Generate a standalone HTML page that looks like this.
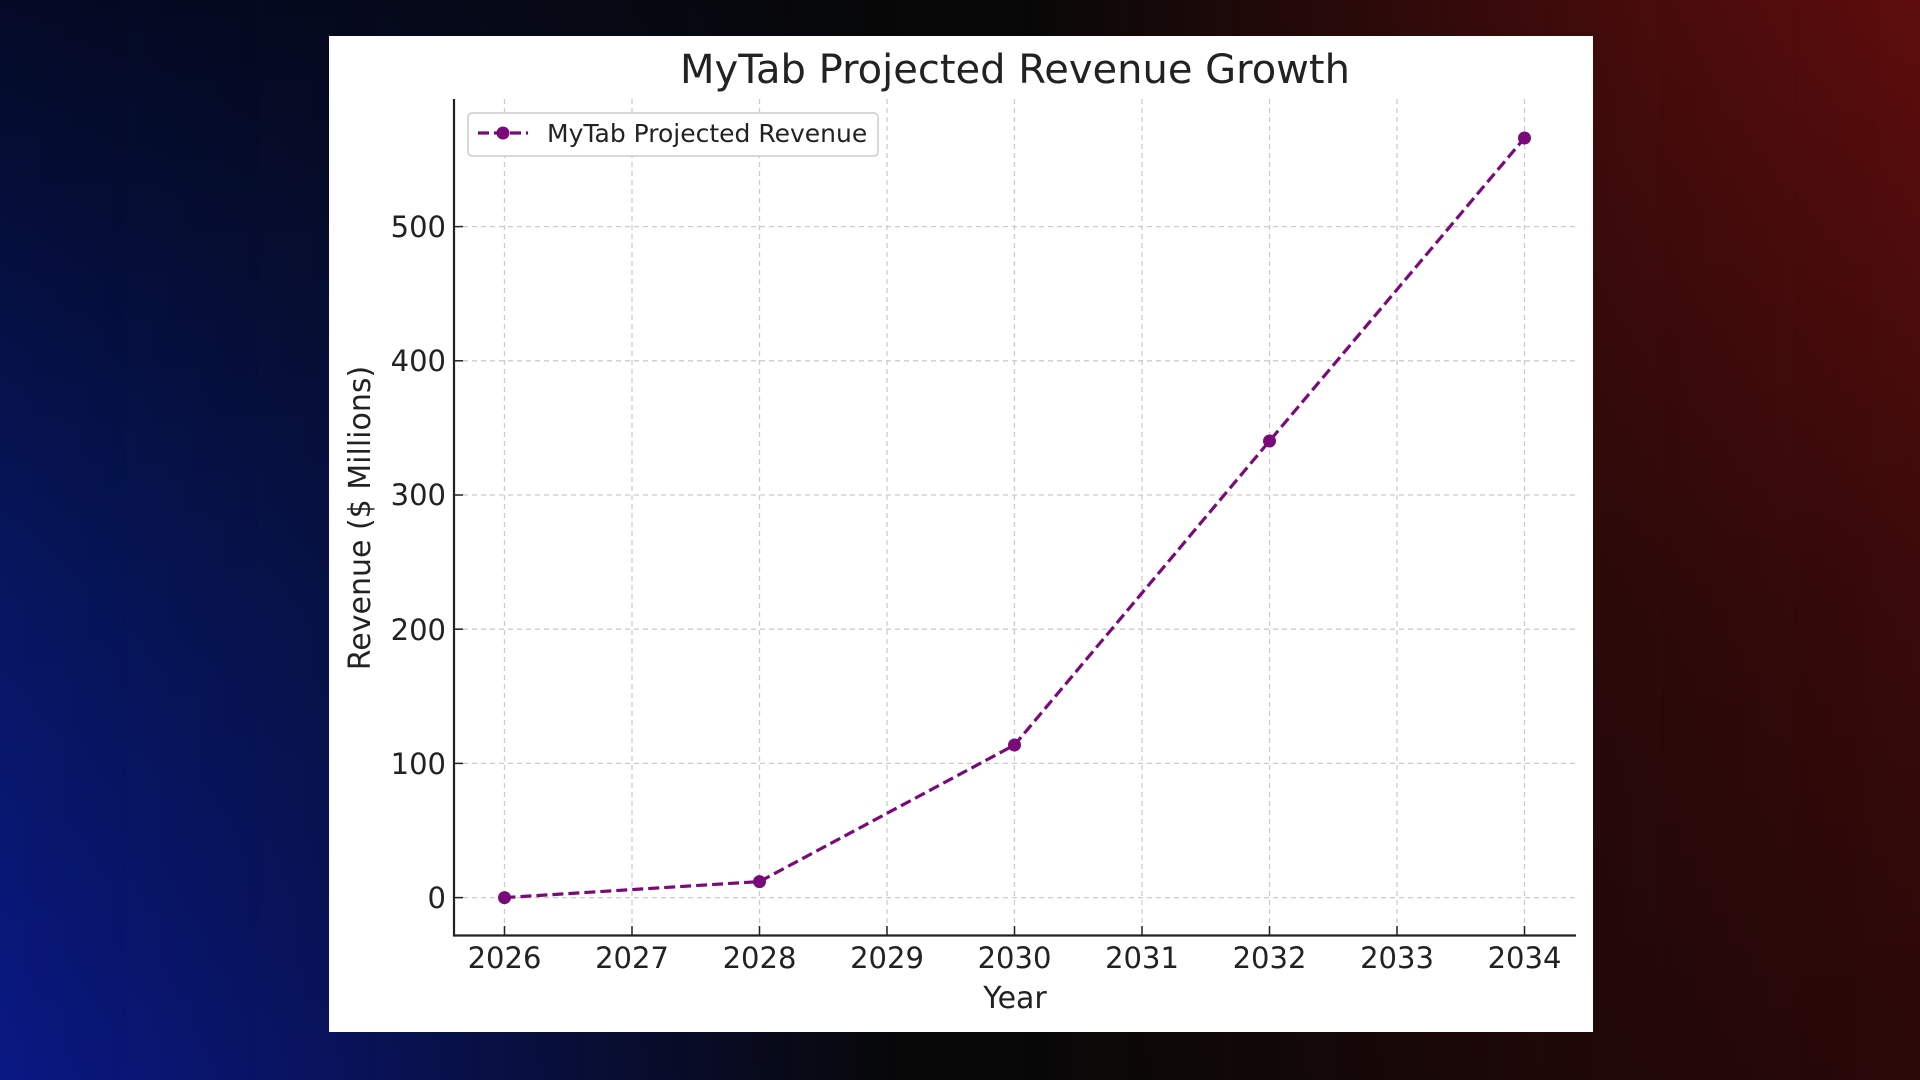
<!DOCTYPE html>
<html><head><style>
html,body{margin:0;padding:0;width:1920px;height:1080px;overflow:hidden;background:#080808;}
.l,.r{position:absolute;top:0;height:1080px;width:900px;}
.l{left:0;background:linear-gradient(to bottom,#040a26 0%,#061660 55%,#0a1884 100%);
-webkit-mask-image:linear-gradient(to right,#000 0%,rgba(0,0,0,.7) 35%,transparent 100%);mask-image:linear-gradient(to right,#000 0%,rgba(0,0,0,.7) 35%,transparent 100%);}
.r{right:0;background:linear-gradient(to bottom,#5e0d0d 0%,#3a0a0a 55%,#2a0808 100%);
-webkit-mask-image:linear-gradient(to left,#000 0%,rgba(0,0,0,.7) 35%,transparent 100%);mask-image:linear-gradient(to left,#000 0%,rgba(0,0,0,.7) 35%,transparent 100%);}
svg{position:absolute;left:0;top:0;}
text{font-family:"DejaVu Sans","Liberation Sans",sans-serif;fill:#222;}
</style></head><body>
<div class="l"></div><div class="r"></div>
<svg width="1920" height="1080" viewBox="0 0 1920 1080">
<rect x="329" y="36" width="1264" height="996" fill="#fff"/>
<text x="1015" y="83" font-size="40" text-anchor="middle" fill="#333">MyTab Projected Revenue Growth</text>
<g stroke="#ccc" stroke-width="1.3" stroke-dasharray="5,4" fill="none">
<line x1="504.5" y1="99" x2="504.5" y2="935"/>
<line x1="632" y1="99" x2="632" y2="935"/>
<line x1="759.5" y1="99" x2="759.5" y2="935"/>
<line x1="887" y1="99" x2="887" y2="935"/>
<line x1="1014.5" y1="99" x2="1014.5" y2="935"/>
<line x1="1142" y1="99" x2="1142" y2="935"/>
<line x1="1269.5" y1="99" x2="1269.5" y2="935"/>
<line x1="1397" y1="99" x2="1397" y2="935"/>
<line x1="1524.5" y1="99" x2="1524.5" y2="935"/>
<line x1="454" y1="897.6" x2="1576" y2="897.6"/>
<line x1="454" y1="763.4" x2="1576" y2="763.4"/>
<line x1="454" y1="629.2" x2="1576" y2="629.2"/>
<line x1="454" y1="495" x2="1576" y2="495"/>
<line x1="454" y1="360.8" x2="1576" y2="360.8"/>
<line x1="454" y1="226.6" x2="1576" y2="226.6"/>
</g>
<g stroke="#222" stroke-width="2.2">
<line x1="454" y1="99" x2="454" y2="936"/>
<line x1="453" y1="935.5" x2="1576" y2="935.5"/>
</g>
<g stroke="#222" stroke-width="1.5">
<line x1="504.5" y1="935" x2="504.5" y2="926"/><line x1="632" y1="935" x2="632" y2="926"/>
<line x1="759.5" y1="935" x2="759.5" y2="926"/><line x1="887" y1="935" x2="887" y2="926"/>
<line x1="1014.5" y1="935" x2="1014.5" y2="926"/><line x1="1142" y1="935" x2="1142" y2="926"/>
<line x1="1269.5" y1="935" x2="1269.5" y2="926"/><line x1="1397" y1="935" x2="1397" y2="926"/>
<line x1="1524.5" y1="935" x2="1524.5" y2="926"/>
<line x1="454" y1="897.6" x2="463" y2="897.6"/><line x1="454" y1="763.4" x2="463" y2="763.4"/>
<line x1="454" y1="629.2" x2="463" y2="629.2"/><line x1="454" y1="495" x2="463" y2="495"/>
<line x1="454" y1="360.8" x2="463" y2="360.8"/><line x1="454" y1="226.6" x2="463" y2="226.6"/>
</g>
<g font-size="29" text-anchor="middle">
<text x="504.5" y="968">2026</text><text x="632" y="968">2027</text><text x="759.5" y="968">2028</text>
<text x="887" y="968">2029</text><text x="1014.5" y="968">2030</text><text x="1142" y="968">2031</text>
<text x="1269.5" y="968">2032</text><text x="1397" y="968">2033</text><text x="1524.5" y="968">2034</text>
</g>
<text x="1015" y="1008" font-size="30" text-anchor="middle">Year</text>
<g font-size="29" text-anchor="end">
<text x="446" y="908">0</text><text x="446" y="774">100</text><text x="446" y="640">200</text>
<text x="446" y="505">300</text><text x="446" y="371">400</text><text x="446" y="237">500</text>
</g>
<text font-size="30" text-anchor="middle" transform="translate(370,518) rotate(-90)">Revenue ($ Millions)</text>
<polyline points="504.5,897.6 759.5,881.6 1014.5,745 1269.5,441 1524.5,138" fill="none" stroke="#7a0a7a" stroke-width="3.2" stroke-dasharray="11,5"/>
<g fill="#7a0a7a">
<circle cx="504.5" cy="897.6" r="6.5"/><circle cx="759.5" cy="881.6" r="6.5"/>
<circle cx="1014.5" cy="745" r="6.5"/><circle cx="1269.5" cy="441" r="6.5"/><circle cx="1524.5" cy="138" r="6.5"/>
</g>
<rect x="468" y="113" width="410" height="43" rx="4" fill="#fff" stroke="#ccc" stroke-width="1.5"/>
<line x1="478" y1="133" x2="528" y2="133" stroke="#7a0a7a" stroke-width="3.2" stroke-dasharray="11,5"/>
<circle cx="503" cy="133" r="6.5" fill="#7a0a7a"/>
<text x="547" y="142" font-size="25" fill="#333">MyTab Projected Revenue</text>
</svg>
</body></html>
